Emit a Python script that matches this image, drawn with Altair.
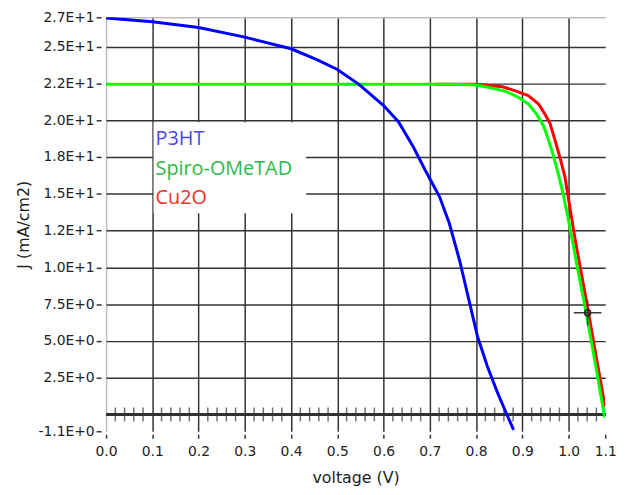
import altair as alt
import pandas as pd

# ---- data ----
series_names = ["P3HT", "Spiro-OMeTAD", "Cu2O"]
line_colors = ["#0000ff", "#00ff00", "#ff0000"]
label_colors = ["#4848e8", "#2fb84c", "#f52c2c"]

p3ht_v = [0.0, 0.1, 0.2, 0.3, 0.4, 0.457, 0.5, 0.546, 0.6, 0.632, 0.664, 0.69,
          0.721, 0.742, 0.764, 0.785, 0.803, 0.824, 0.846, 0.865, 0.881]
p3ht_j = [26.95, 26.7, 26.3, 25.65, 24.86, 24.1, 23.45, 22.46, 21.0, 19.9, 18.2, 16.6,
          14.8, 13.0, 10.5, 7.7, 5.3, 3.3, 1.5, 0.1, -1.05]

spiro_v = [0.0, 0.75, 0.80, 0.828, 0.864, 0.892, 0.913, 0.931, 0.946, 0.956, 0.967,
           0.978, 0.988, 0.999, 1.010, 1.017, 1.038, 1.058, 1.078]
spiro_j = [22.45, 22.45, 22.4, 22.23, 21.96, 21.55, 21.1, 20.4, 19.6, 18.7, 17.6,
           16.3, 15.0, 13.3, 11.5, 10.3, 6.9, 3.4, -0.2]

cu2o_v = [0.71, 0.80, 0.857, 0.885, 0.913, 0.935, 0.949, 0.960, 0.971, 0.981, 0.992,
          0.999, 1.006, 1.013, 1.021, 1.043, 1.062, 1.079]
cu2o_j = [22.45, 22.45, 22.28, 22.0, 21.67, 21.1, 20.4, 19.76, 18.6, 17.5, 16.15,
          14.8, 13.45, 12.1, 10.7, 6.92, 3.5, 0.5]

cursor_v = [1.041]
cursor_j = [6.92]

x_min, x_max = 0.0, 1.079
y_min, y_max = -1.14, 27.0
x_ticks = [0.0, 0.1, 0.2, 0.3, 0.4, 0.5, 0.6, 0.7, 0.8, 0.9, 1.0, 1.079]
y_ticks = [-1.14, 2.5, 5.0, 7.5, 10.0, 12.5, 15.0, 17.5, 20.0, 22.5, 25.0, 27.0]
y_labels = ["-1.1E+0", "2.5E+0", "5.0E+0", "7.5E+0", "1.0E+1", "1.2E+1",
            "1.5E+1", "1.8E+1", "2.0E+1", "2.2E+1", "2.5E+1", "2.7E+1"]
minor_x = [round(i * 0.02, 2) for i in range(1, 54) if i % 5 != 0]

# ---- tables ----
def frame(name, v, j):
    return pd.DataFrame({"V": v, "J": j, "series": name})

df_p3ht = frame("P3HT", p3ht_v, p3ht_j)
df_spiro = frame("Spiro-OMeTAD", spiro_v, spiro_j)
df_cu2o = frame("Cu2O", cu2o_v, cu2o_j)
df_cursor = pd.DataFrame({"V": cursor_v, "J": cursor_j})
df_minor = pd.DataFrame({"V": minor_x, "J": [0.0] * len(minor_x)})
df_one = pd.DataFrame({"k": [0]})

FONT = "DejaVu Sans"
LFONT = "Open Sans"
TXT = "#222222"
GRID = "#333333"
FRAME = "#bdbdbd"

xs = alt.Scale(domain=[x_min, x_max], nice=False, zero=False)
ys = alt.Scale(domain=[y_min, y_max], nice=False, zero=False)

x_axis = alt.Axis(
    values=x_ticks, tickCount=40, labelExpr="format(datum.value, '.1f')",
    title="voltage (V)",
    domain=False, offset=3, tickSize=4, tickColor=GRID, tickWidth=1.5,
    labelPadding=6, labelFont=FONT, labelFontSize=14, labelColor=TXT,
    labelFlush=False, labelOverlap=False,
    titleFont=FONT, titleFontSize=16, titleFontWeight="normal", titleColor=TXT,
    titlePadding=12,
    grid=True, gridWidth=1.5,
    gridColor={"condition": [{"test": "datum.value <= 0.0001", "value": FRAME},
                             {"test": "datum.value > 1.05", "value": "transparent"}],
               "value": GRID},
)

y_expr = "[" + ",".join("'%s'" % s for s in y_labels) + "][indexof([" + \
    ",".join(repr(v) for v in y_ticks) + "], datum.value)]"

y_axis = alt.Axis(
    values=y_ticks, tickCount=40, labelExpr=y_expr, title="J (mA/cm2)",
    domain=False, offset=5, tickSize=5, tickColor=GRID, tickWidth=1.5,
    labelPadding=2, labelFont=FONT, labelFontSize=14, labelColor=TXT,
    labelOverlap=False, labelFlush=False,
    titleFont=FONT, titleFontSize=16, titleFontWeight="normal", titleColor=TXT,
    titlePadding=7,
    grid=True, gridWidth=1.5,
    gridColor={"condition": [{"test": "datum.value < 0", "value": "transparent"},
                             {"test": "datum.value > 26", "value": FRAME}],
               "value": GRID},
)

color_expr = "datum.value === 'P3HT' ? '%s' : datum.value === 'Spiro-OMeTAD' ? '%s' : '%s'" % tuple(label_colors)

legend = alt.Legend(
    orient="none", legendX=27, legendY=106, title=" ", titleFontSize=4,
    titlePadding=1,
    padding=2, symbolType="circle", symbolSize=1, symbolOpacity=0,
    symbolStrokeWidth=0.01,
    labelOffset=1, labelFont=LFONT, labelFontSize=20, labelLimit=300,
    labelColor=alt.ExprRef(color_expr),
    rowPadding=10, zindex=1,
)

color = alt.Color("series:N",
                  scale=alt.Scale(domain=series_names, range=line_colors),
                  legend=legend)

def line(df):
    return alt.Chart(df).mark_line(strokeWidth=3, clip=True).encode(
        x=alt.X("V:Q", scale=xs, axis=x_axis),
        y=alt.Y("J:Q", scale=ys, axis=y_axis),
        color=color,
        order=alt.Order("V:Q"),
    )

# white panel behind the legend text, hiding the grid as in the reference
legend_panel = alt.Chart(df_one).mark_rect(color="white", opacity=1).encode(
    x=alt.value(48), x2=alt.value(202), y=alt.value(106), y2=alt.value(198),
)

zero_line = alt.Chart(df_minor).mark_rule(color=GRID, strokeWidth=1.5).encode(
    y=alt.datum(0.0),
)

minor_ticks = alt.Chart(df_minor).mark_tick(
    orient="vertical", size=14, thickness=1.5, color=GRID
).encode(
    x=alt.X("V:Q", scale=xs, axis=x_axis),
    y=alt.Y("J:Q", scale=ys, axis=y_axis),
)

cursor_cross = alt.Chart(df_cursor).mark_point(
    shape="M-1,0H1M0,-0.93V0.93", size=784, filled=False, stroke="#3a3a3a",
    strokeWidth=1.5, opacity=1
).encode(
    x=alt.X("V:Q", scale=xs, axis=x_axis),
    y=alt.Y("J:Q", scale=ys, axis=y_axis),
)

cursor_dot = alt.Chart(df_cursor).mark_point(
    shape="circle", size=36, filled=False, stroke="#222222", strokeWidth=1.5, opacity=1
).encode(
    x=alt.X("V:Q", scale=xs, axis=x_axis),
    y=alt.Y("J:Q", scale=ys, axis=y_axis),
)

chart = alt.layer(
    legend_panel, zero_line, minor_ticks, line(df_cu2o), line(df_spiro), line(df_p3ht),
    cursor_cross, cursor_dot,
).properties(
    width=504, height=418,
    autosize=alt.AutoSizeParams(type="none"),
    padding={"left": 99, "top": 7, "right": 20, "bottom": 62},
    background="white",
).configure_view(stroke=None)

chart.save("out.html", embed_options={"renderer": "svg", "actions": False})
